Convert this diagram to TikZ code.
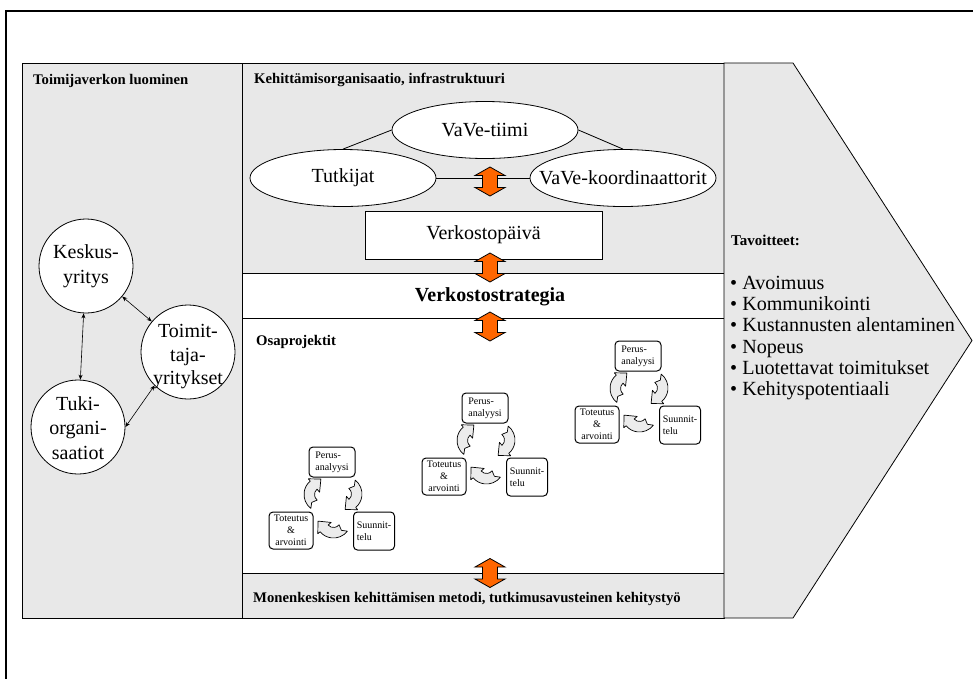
\documentclass[tikz,border=0pt]{standalone}
\usepackage{fontspec}
\setmainfont{Liberation Serif}
\usetikzlibrary{shapes.geometric,arrows.meta}
\definecolor{panelgray}{RGB}{232,232,232}
\definecolor{arroworange}{RGB}{255,102,0}
\definecolor{crescentfill}{RGB}{236,236,236}
\newcommand\fsz[2]{\fontsize{#1}{#2}\selectfont}

% curved block arrow of the phase cycle: #1 position, #2 rotation
\newcommand\turnarrow[2]{%
  \begin{scope}[shift={#1},rotate=#2,x=1pt,y=1pt,shift={(0,-12)}]
    \draw[fill=crescentfill,draw=black,line width=0.7pt,line join=round]
      (142.5:17.5) arc[start angle=142.5,end angle=40,radius=17.5]
      -- (40:20.5) -- (15.5,0.6) -- (40:3) -- (40:7)
      arc[start angle=40,end angle=142.5,radius=7]
      -- (-7.9,9.8) -- cycle;
  \end{scope}}

\tikzset{
  panel/.style={fill=panelgray,draw=black,line width=0.8pt},
  whiteband/.style={fill=white,draw=black,line width=0.8pt},
  header/.style={font=\fsz{14.7}{17}\bfseries,anchor=west,inner sep=0pt},
  oval/.style={ellipse,draw=black,fill=white,line width=0.8pt,minimum width=186pt,
    minimum height=57pt,inner sep=0pt,font=\fsz{20}{22}},
  actor/.style={circle,draw=black,fill=white,line width=0.8pt,minimum size=94pt,inner sep=0pt},
  actortext/.style={align=center,inner sep=0pt,font=\fsz{20}{24.5}},
  link/.style={line width=0.6pt,{Stealth[length=5pt,width=4pt]}-{Stealth[length=5pt,width=4pt]}},
  phasebox/.style={draw=black,fill=white,rounded corners=4pt,line width=1pt,inner sep=1pt,
    font=\fsz{10}{12}},
  dblarrow/.pic={\draw[fill=arroworange,draw=black,line width=0.8pt]
    (0,-14.5) -- (15,-6) -- (7.5,-6) -- (7.5,6) -- (15,6) -- (0,14.5)
    -- (-15,6) -- (-7.5,6) -- (-7.5,-6) -- (-15,-6) -- cycle;},
  phasecycle/.pic={
    \node[phasebox,align=left,minimum width=46pt,minimum height=30pt] (-perus) at (0,0) {Perus-\\analyysi};
    \node[phasebox,align=center,minimum width=44pt,minimum height=37pt] (-tot) at (-41,68.5) {Toteutus\\\&\\arvointi};
    \node[phasebox,align=left,minimum width=41pt,minimum height=38pt] (-suun) at (42,69) {Suunnit-\\telu};
    \turnarrow{(-22.5,32.5)}{90}
    \turnarrow{(24.5,32)}{-90}
    \turnarrow{(1.5,70.5)}{180}
  },
}

\begin{document}
\begin{tikzpicture}[x=1pt,y=-1pt]
\clip (0,0) rectangle (973,678);

% outer frame
\draw[line width=2pt] (6,700) -- (6,11) -- (1000,11);

% panels
\draw[panel] (22,63) rectangle (242,618);
\draw[panel] (242,63) rectangle (724,273);
\draw[whiteband] (242,273) rectangle (724,318);
\draw[whiteband] (242,318) rectangle (724,573);
\draw[panel] (242,573) rectangle (724,618);
\draw[panel] (724,63) -- (793,63) -- (972,340.5) -- (793,618) -- (724,618) -- cycle;

% headers
\node[header] (h1) at (33,81) {Toimijaverkon luominen};
\node[header] (h2) at (254,80) {Kehittämisorganisaatio, infrastruktuuri};
\node[header] (h3) at (256,342) {Osaprojektit};
\node[header] (h4) at (253,599) {Monenkeskisen kehittämisen metodi, tutkimusavusteinen kehitystyö};

% actor network
\node[actor] (kesk) at (86,266) {};
\node[actortext,font=\fsz{20}{25}] (keskt) at (86,266) {Keskus-\\yritys};
\node[actor] (toim) at (188,352) {};
\node[actortext,font=\fsz{20}{23.5}] (toimt) at (188,357) {Toimit-\\taja-\\yritykset};
\node[actor] (tuki) at (78,427) {};
\node[actortext] (tukit) at (78,428) {Tuki-\\organi-\\saatiot};
\draw[link] (kesk) -- (toim);
\draw[link] (kesk) -- (tuki);
\draw[link] (tuki.0) -- (toim.225);

% development organisation
\node[oval] (tiimi) at (485,130) {\makebox[0pt]{VaVe-tiimi}};
\node[oval] (tutk) at (343,178) {\makebox[0pt]{Tutkijat}};
\node[oval] (koord) at (623,178) {\makebox[0pt]{VaVe-koordinaattorit}};
\draw[line width=0.8pt] (tutk.north) -- (tiimi.west);
\draw[line width=0.8pt] (tiimi.east) -- (koord.north);
\draw[line width=0.8pt] (tutk.east) -- (koord.west);
\node[draw=black,fill=white,line width=0.8pt,minimum width=237pt,minimum height=48pt,
  font=\fsz{20}{22}] (paiva) at (483.5,235) {Verkostopäivä};
\node[font=\fsz{20}{22}\bfseries] (strat) at (490,297) {Verkostostrategia};

% orange double arrows between the levels
\pic at (490,181.5) {dblarrow};
\pic at (490,267.5) {dblarrow};
\pic at (490,326.5) {dblarrow};
\pic at (490,573) {dblarrow};

% sub-project cycles
\pic (cyc1) at (332,462) {phasecycle};
\pic (cyc2) at (485,408) {phasecycle};
\pic (cyc3) at (638,356) {phasecycle};

% goals
\node[anchor=west,inner sep=0pt,font=\fsz{15}{17}\bfseries] (goalhead) at (731,240) {Tavoitteet:};
\node[anchor=west,inner sep=0pt,align=left,font=\fsz{20.1}{21.2}] (goals) at (730,338)
  {• Avoimuus\\• Kommunikointi\\• Kustannusten alentaminen\\• Nopeus\\• Luotettavat toimitukset\\• Kehityspotentiaali};
\end{tikzpicture}
\end{document}
